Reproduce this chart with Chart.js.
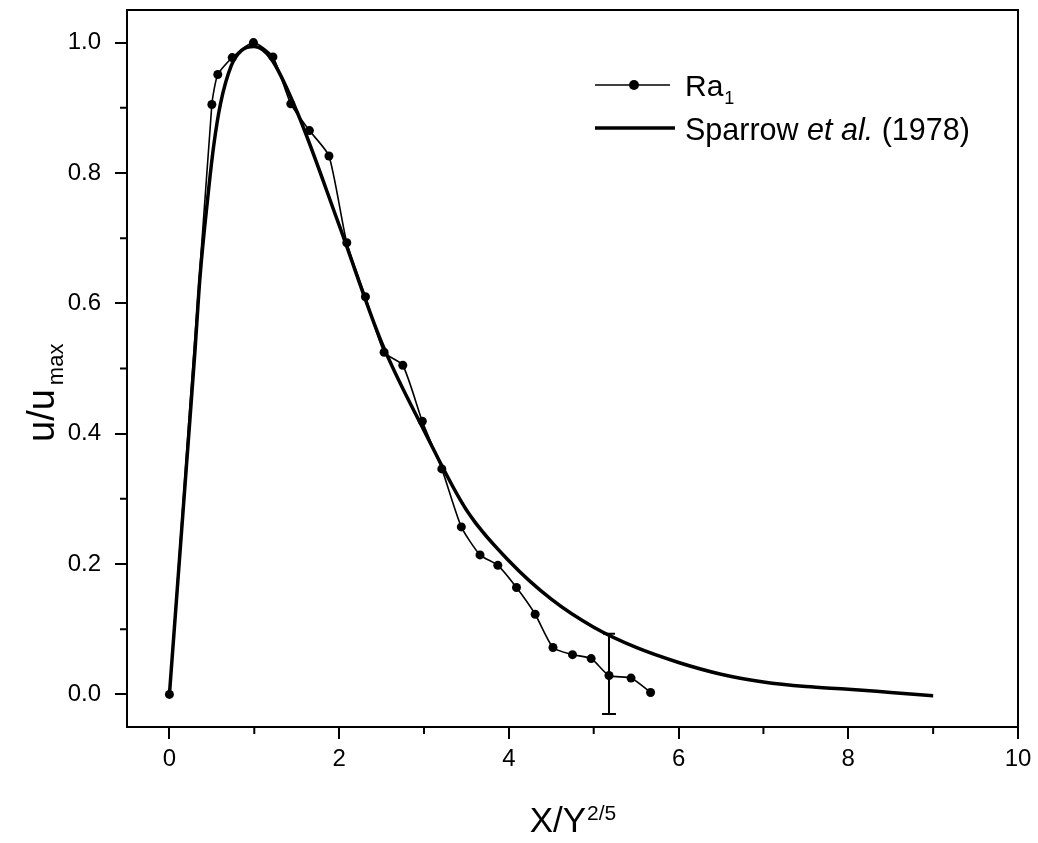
<!DOCTYPE html>
<html><head><meta charset="utf-8">
<script src="https://cdn.jsdelivr.net/npm/chart.js@4"></script>
<style>html,body{margin:0;padding:0;background:#fff;overflow:hidden}#wrap{width:1038px;height:843px}</style>
</head><body><div id="wrap"><canvas id="c" width="1038" height="843"></canvas></div>
<script>
// Ra1 measured profile
const raX = [0, 0.50, 0.57, 0.74, 0.99, 1.22, 1.43, 1.65, 1.88, 2.09, 2.31, 2.53, 2.75, 2.98, 3.21, 3.44, 3.66, 3.87, 4.09, 4.31, 4.52, 4.75, 4.97, 5.18, 5.44, 5.67];
const raY = [0, 0.905, 0.951, 0.977, 1.0, 0.978, 0.906, 0.865, 0.826, 0.693, 0.610, 0.525, 0.505, 0.419, 0.346, 0.257, 0.214, 0.198, 0.164, 0.123, 0.072, 0.061, 0.055, 0.029, 0.025, 0.003];
// Sparrow et al. (1978) profile
const sparrowX = [0, 0.1, 0.2, 0.3, 0.36, 0.45, 0.52, 0.6, 0.73, 0.85, 1.0, 1.2, 1.5, 2.0, 2.5, 3.0, 3.5, 4.0, 4.5, 5.0, 5.5, 6.0, 6.5, 7.0, 7.5, 8.0, 8.5, 9.0];
const sparrowY = [0, 0.175, 0.35, 0.525, 0.64, 0.76, 0.84, 0.905, 0.965, 0.988, 0.994, 0.975, 0.895, 0.72, 0.54, 0.405, 0.283, 0.205, 0.146, 0.103, 0.072, 0.049, 0.031, 0.019, 0.012, 0.008, 0.003, -0.002];
// error bar on Ra1
const errX = [5.18];
const errLow = [-0.03];
const errHigh = [0.093];
// ticks
const xMajorTicks = [0, 2, 4, 6, 8, 10];
const xMinorTicks = [1, 3, 5, 7, 9];
const yMajorTicks = [0.0, 0.2, 0.4, 0.6, 0.8, 1.0];
const yMinorTicks = [0.1, 0.3, 0.5, 0.7, 0.9];
const seriesNames = ['Ra', 'Sparrow'];

const FONT = "'Liberation Sans', Arial, Helvetica, sans-serif";

const framePlugin = {
  id: 'frame',
  afterDraw(chart) {
    const ctx = chart.ctx, a = chart.chartArea;
    const xs = chart.scales.x, ys = chart.scales.y;
    ctx.save();
    ctx.strokeStyle = '#000';
    ctx.lineWidth = 2;
    ctx.strokeRect(a.left, a.top, a.right - a.left, a.bottom - a.top);
    // minor ticks
    ctx.beginPath();
    xMinorTicks.forEach(v => {
      const px = xs.getPixelForValue(v);
      ctx.moveTo(px, a.bottom); ctx.lineTo(px, a.bottom + 7);
    });
    yMinorTicks.forEach(v => {
      const py = ys.getPixelForValue(v);
      ctx.moveTo(a.left, py); ctx.lineTo(a.left - 7, py);
    });
    ctx.stroke();
    // error bar
    ctx.lineWidth = 2;
    ctx.beginPath();
    errX.forEach((x, i) => {
      const px = xs.getPixelForValue(x);
      const p1 = ys.getPixelForValue(errLow[i]);
      const p2 = ys.getPixelForValue(errHigh[i]);
      ctx.moveTo(px, p1); ctx.lineTo(px, p2);
      ctx.moveTo(px - 7, p1); ctx.lineTo(px + 7, p1);
      ctx.moveTo(px - 6, p2); ctx.lineTo(px + 6, p2);
    });
    ctx.stroke();

    // axis titles
    ctx.fillStyle = '#000';
    ctx.textBaseline = 'alphabetic';
    // x title
    const cx = (a.left + a.right) / 2;
    ctx.font = '35px ' + FONT;
    const mainX = 'X/Y';
    const w1 = ctx.measureText(mainX).width;
    ctx.font = '21px ' + FONT;
    const supX = '2/5';
    const w2 = ctx.measureText(supX).width;
    const startX = cx - (w1 + w2) / 2;
    const baseX = 832;
    ctx.font = '35px ' + FONT;
    ctx.textAlign = 'left';
    ctx.fillText(mainX, startX, baseX);
    ctx.font = '21px ' + FONT;
    ctx.fillText(supX, startX + w1 + 1, baseX - 12);

    // y title
    ctx.save();
    ctx.translate(54, 442);
    ctx.rotate(-Math.PI / 2);
    ctx.font = '38px ' + FONT;
    const mainY = 'u/u';
    const wy1 = ctx.measureText(mainY).width;
    ctx.fillText(mainY, 0, 0);
    ctx.font = '22px ' + FONT;
    ctx.fillText('max', wy1 + 4, 9);
    ctx.restore();

    // legend
    ctx.lineWidth = 1.5;
    ctx.beginPath();
    ctx.moveTo(595, 85); ctx.lineTo(670, 85);
    ctx.stroke();
    ctx.beginPath();
    ctx.arc(634, 85, 5, 0, Math.PI * 2);
    ctx.fill();
    ctx.lineWidth = 3.5;
    ctx.beginPath();
    ctx.moveTo(595, 128); ctx.lineTo(675, 128);
    ctx.stroke();
    ctx.font = '30px ' + FONT;
    ctx.fillText(seriesNames[0], 685, 96);
    const wr = ctx.measureText(seriesNames[0]).width;
    ctx.font = '18px ' + FONT;
    ctx.fillText('1', 685 + wr + 1, 104);
    let lx = 685;
    ctx.font = '30.5px ' + FONT;
    ctx.fillText(seriesNames[1] + ' ', lx, 140);
    lx += ctx.measureText(seriesNames[1] + ' ').width;
    ctx.font = 'italic 30.5px ' + FONT;
    ctx.fillText('et al.', lx, 140);
    lx += ctx.measureText('et al.').width;
    ctx.font = '30.5px ' + FONT;
    ctx.fillText(' (1978)', lx, 140);
    ctx.restore();
  }
};

new Chart(document.getElementById('c'), {
  type: 'scatter',
  data: {
    datasets: [
      {
        label: 'Ra1',
        data: raX.map((x, i) => ({ x: x, y: raY[i] })),
        showLine: true,
        borderColor: '#000',
        borderWidth: 1.6,
        backgroundColor: '#000',
        pointBackgroundColor: '#000',
        pointBorderColor: '#000',
        pointRadius: 4.5,
        pointBorderWidth: 0,
        tension: 0.2
      },
      {
        label: 'Sparrow et al. (1978)',
        data: sparrowX.map((x, i) => ({ x: x, y: sparrowY[i] })),
        showLine: true,
        borderColor: '#000',
        borderWidth: 3.5,
        pointRadius: 0,
        cubicInterpolationMode: 'monotone'
      }
    ]
  },
  options: {
    responsive: false,
    animation: false,
    devicePixelRatio: 1,
    layout: { padding: { left: 0, top: 10, right: 20, bottom: 0 } },
    plugins: { legend: { display: false }, tooltip: { enabled: false } },
    scales: {
      x: {
        type: 'linear', min: -0.5, max: 10,
        afterBuildTicks: s => { s.ticks = xMajorTicks.map(v => ({ value: v })); },
        afterFit: s => { s.height = 116; s.paddingLeft = 0; s.paddingRight = 0; },
        grid: { drawOnChartArea: false, drawTicks: true, tickLength: 12, color: '#000', lineWidth: 2 },
        border: { display: true, color: '#000', width: 2 },
        ticks: { color: '#000', font: { family: FONT, size: 24 }, padding: 6, maxRotation: 0, callback: v => String(v) }
      },
      y: {
        type: 'linear', min: -0.05, max: 1.05,
        afterBuildTicks: s => { s.ticks = yMajorTicks.map(v => ({ value: v })); },
        afterFit: s => { s.width = 127; s.paddingTop = 0; s.paddingBottom = 0; },
        grid: { drawOnChartArea: false, drawTicks: true, tickLength: 12, color: '#000', lineWidth: 2 },
        border: { display: true, color: '#000', width: 2 },
        ticks: { color: '#000', font: { family: FONT, size: 24 }, padding: 14, callback: v => Number(v).toFixed(1) }
      }
    }
  },
  plugins: [framePlugin]
});
</script>
</body></html>
